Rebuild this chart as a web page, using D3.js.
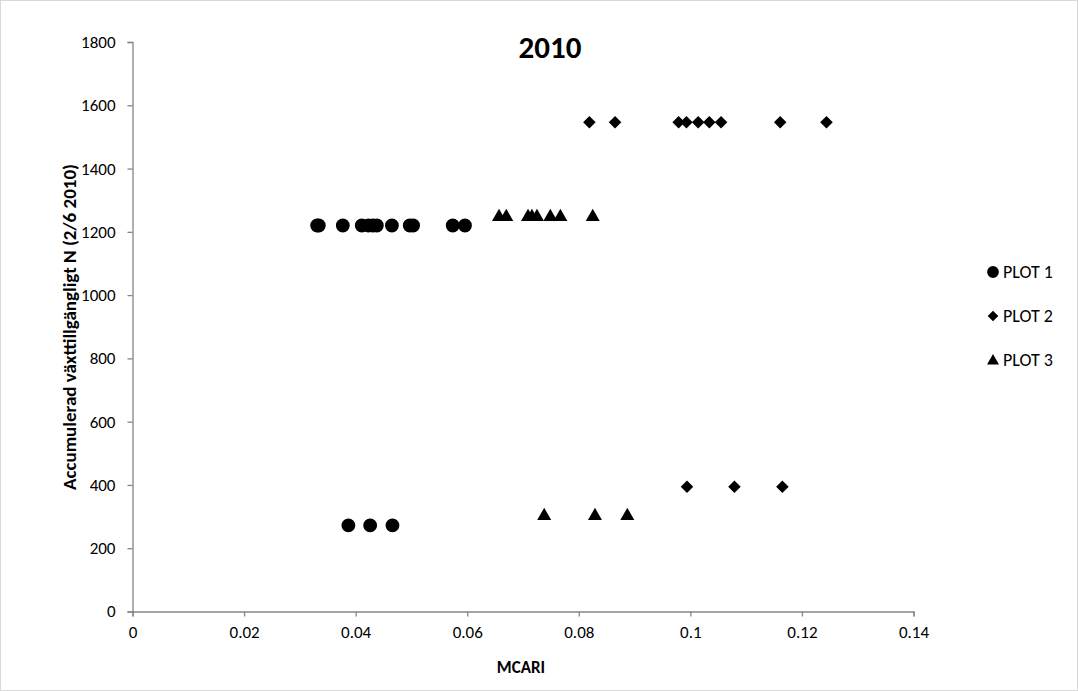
<!DOCTYPE html>
<html>
<head>
<meta charset="utf-8">
<script src="https://cdn.jsdelivr.net/npm/d3@7"></script>
<style>
  body { margin: 0; background: #fff; }
  svg { display: block; font-family: Calibri, Carlito, "Open Sans", "Liberation Sans", sans-serif; }
</style>
</head>
<body>
<svg width="1078" height="691"></svg>
<script>
// MCARI (x) and accumulated N (y) per plot
const plot1X = [0.0331, 0.0334, 0.0377, 0.0411, 0.0423, 0.0431, 0.0438, 0.0465, 0.0497, 0.0503, 0.0574, 0.0596,
                0.0387, 0.0426, 0.0466];
const plot1Y = [1220, 1220, 1220, 1220, 1220, 1220, 1220, 1220, 1220, 1220, 1220, 1220,
                272, 272, 272];

const plot2X = [0.0819, 0.0865, 0.0979, 0.0993, 0.1014, 0.1034, 0.1055, 0.1161, 0.1244,
                0.0994, 0.1079, 0.1165];
const plot2Y = [1546, 1546, 1546, 1546, 1546, 1546, 1546, 1546, 1546,
                394, 394, 394];

const plot3X = [0.0657, 0.0670, 0.0709, 0.0716, 0.0725, 0.0749, 0.0767, 0.0825,
                0.0738, 0.0829, 0.0887];
const plot3Y = [1252, 1252, 1252, 1252, 1252, 1252, 1252, 1252,
                307, 307, 307];

const seriesNames = ['PLOT 1', 'PLOT 2', 'PLOT 3'];
const xTicks = [0, 0.02, 0.04, 0.06, 0.08, 0.1, 0.12, 0.14];
const yTicks = [0, 200, 400, 600, 800, 1000, 1200, 1400, 1600, 1800];

const svg = d3.select('svg');
const axisColor = '#868686';
const fontFam = 'Calibri, Carlito, "Open Sans", "Liberation Sans", sans-serif';

// outer chart border
svg.append('rect')
    .attr('x', 0.5).attr('y', 0.5)
    .attr('width', 1077).attr('height', 690)
    .attr('fill', 'none')
    .attr('stroke', '#d9d9d9');

const x = d3.scaleLinear().domain([0, 0.14]).range([132.5, 913.5]);
const y = d3.scaleLinear().domain([0, 1800]).range([611.5, 42]);

// y axis
const yAxis = d3.axisLeft(y).tickValues(yTicks).tickSize(5).tickPadding(12).tickFormat(d3.format('d'));
const gy = svg.append('g').attr('transform', 'translate(' + x(0) + ',0)').call(yAxis);

// x axis
const xAxis = d3.axisBottom(x).tickValues(xTicks).tickSize(5).tickPadding(9).tickFormat(d => d === 0 ? '0' : String(+d.toFixed(2)));
const gx = svg.append('g').attr('transform', 'translate(0,' + y(0) + ')').call(xAxis);

[gx, gy].forEach(g => {
    g.select('.domain').attr('stroke', axisColor).attr('stroke-width', 1.3);
    g.selectAll('.tick line').attr('stroke', axisColor).attr('stroke-width', 1.3);
    g.selectAll('.tick text').attr('fill', '#000').style('font-size', '17px')
        .style('font-family', fontFam);
});

// symbols
const symbols = [d3.symbolCircle, d3.symbolDiamond2, d3.symbolTriangle];
const symSizes = [150, 100, 85];
const symbolPath = i => d3.symbol().type(symbols[i]).size(symSizes[i])();

const allSeries = [[plot1X, plot1Y], [plot2X, plot2Y], [plot3X, plot3Y]];
allSeries.forEach((s, i) => {
    const pts = s[0].map((v, k) => ({x: v, y: s[1][k]}));
    svg.append('g').selectAll('path')
        .data(pts)
        .join('path')
        .attr('d', symbolPath(i))
        .attr('transform', d => 'translate(' + x(d.x) + ',' + (y(d.y) + (i === 2 ? 1.5 : 0)) + ')')
        .attr('fill', '#000');
});

// title
svg.append('text')
    .attr('x', 550).attr('y', 58)
    .attr('text-anchor', 'middle')
    .style('font-size', '31px').style('font-weight', 'bold')
    .text('2010');

// axis titles
svg.append('text')
    .attr('x', 521).attr('y', 673)
    .attr('text-anchor', 'middle')
    .style('font-size', '17px').style('font-weight', 'bold')
    .text('MCARI');

svg.append('text')
    .attr('transform', 'translate(76,327) rotate(-90)')
    .attr('text-anchor', 'middle')
    .style('font-size', '19px').style('font-weight', 'bold')
    .text('Accumulerad växttillgängligt N (2/6 2010)');

// legend
const legend = svg.append('g');
seriesNames.forEach((name, i) => {
    const ly = 272 + i * 44;
    legend.append('path')
        .attr('d', symbolPath(i))
        .attr('transform', 'translate(993,' + (ly + (i === 2 ? 1 : 0)) + ') scale(0.85)')
        .attr('fill', '#000');
    legend.append('text')
        .attr('x', 1003).attr('y', ly + 6)
        .style('font-size', '18px')
        .text(name);
});
</script>
</body>
</html>
